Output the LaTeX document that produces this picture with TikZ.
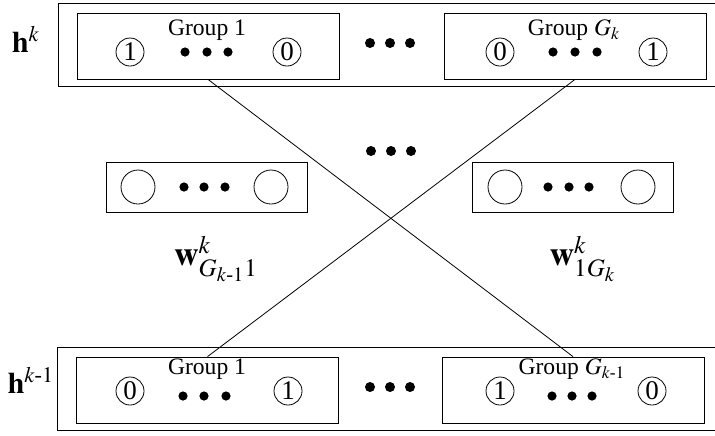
\documentclass[tikz,border=0pt]{standalone}
\usepackage{amsmath}
\usepackage{mathptmx}
\usepackage{fontspec}
\setmainfont{Liberation Serif}
\usetikzlibrary{positioning}

\begin{document}
\begin{tikzpicture}[
  x=0.5pt, y=-0.5pt, font=\fontsize{11.8}{14}\selectfont,
  grp/.style={draw, minimum width=131pt, minimum height=33pt, inner sep=0pt},
  wbox/.style={draw, minimum width=100.5pt, minimum height=25pt, inner sep=0pt},
  bit/.style={draw, circle, minimum size=14pt, inner sep=0pt, font=\fontsize{13.5}{15}\selectfont},
  wunit/.style={draw, circle, minimum size=17pt, inner sep=0pt},
  dot/.style={fill, circle, minimum size=#1, inner sep=0pt},
  dot/.default=4.6pt,
  lbl/.style={font=\fontsize{15}{17}\selectfont}]
  \path[use as bounding box, clip] (0,0) rectangle (715,435);

  % layer k
  \draw (58,3) rectangle (745,86);
  \node[lbl] (hk) at (26,39) {$\mathbf{h}^{k}$};
  \node[grp] (gtop1) at (208,46) {};
  \node (ttop1) at (207,30) {Group 1};
  \node[bit] (btop1a) at (130,52) {1};
  \node[bit] (btop1b) at (287,52) {0};
  \foreach \x in {185,207,228} \node[dot] (dtop1\x) at (\x,52) {};
  \foreach \x in {370,390,410} \node[dot=5pt] (dtopm\x) at (\x,43) {};
  \node[grp] (gtopG) at (575,46) {};
  \node (ttopG) at (574,30) {Group $G_k$};
  \node[bit] (btopGa) at (500,52) {0};
  \node[bit] (btopGb) at (653,52) {1};
  \foreach \x in {553,575,597} \node[dot] (dtopG\x) at (\x,52) {};

  % weights
  \foreach \x in {371,391,411} \node[dot=5pt] (dmid\x) at (\x,151) {};
  \node[wbox] (wleft) at (206.5,187) {};
  \node[wunit] (wla) at (138,187) {};
  \node[wunit] (wlb) at (271,187) {};
  \foreach \x in {184,204,225} \node[dot] (dwl\x) at (\x,187) {};
  \node[wbox] (wright) at (572.5,187) {};
  \node[wunit] (wra) at (505,187) {};
  \node[wunit] (wrb) at (638,187) {};
  \foreach \x in {548,569,589} \node[dot] (dwr\x) at (\x,187) {};
  \node[lbl, font=\fontsize{17}{19}\selectfont] (wlabl) at (216,259) {$\mathbf{w}^{k}_{G_{k\text{-}1}1}$};
  \node[lbl, font=\fontsize{17}{19}\selectfont] (wlabr) at (583,259) {$\mathbf{w}^{k}_{1G_{k}}$};

  % layer k-1
  \draw (57,347) rectangle (745,430);
  \node[lbl] (hkm) at (31,380) {$\mathbf{h}^{k\text{-}1}$};
  \node[grp] (gbot1) at (207.5,390) {};
  \node (tbot1) at (207,369) {Group 1};
  \node[bit] (bbot1a) at (130,391) {0};
  \node[bit] (bbot1b) at (288,391) {1};
  \foreach \x in {183,204,226} \node[dot] (dbot1\x) at (\x,396) {};
  \foreach \x in {370,390,410} \node[dot=5pt] (dbotm\x) at (\x,387) {};
  \node[grp] (gbotG) at (573,390) {};
  \node (tbotG) at (572,369) {Group $G_{k\text{-}1}$};
  \node[bit] (bbotGa) at (500,391) {1};
  \node[bit] (bbotGb) at (652,391) {0};
  \foreach \x in {552,572,592} \node[dot] (dbotG\x) at (\x,396) {};

  \draw (gtop1.south) -- (gbotG.north);
  \draw (gtopG.south) -- (gbot1.north);
\end{tikzpicture}
\end{document}
